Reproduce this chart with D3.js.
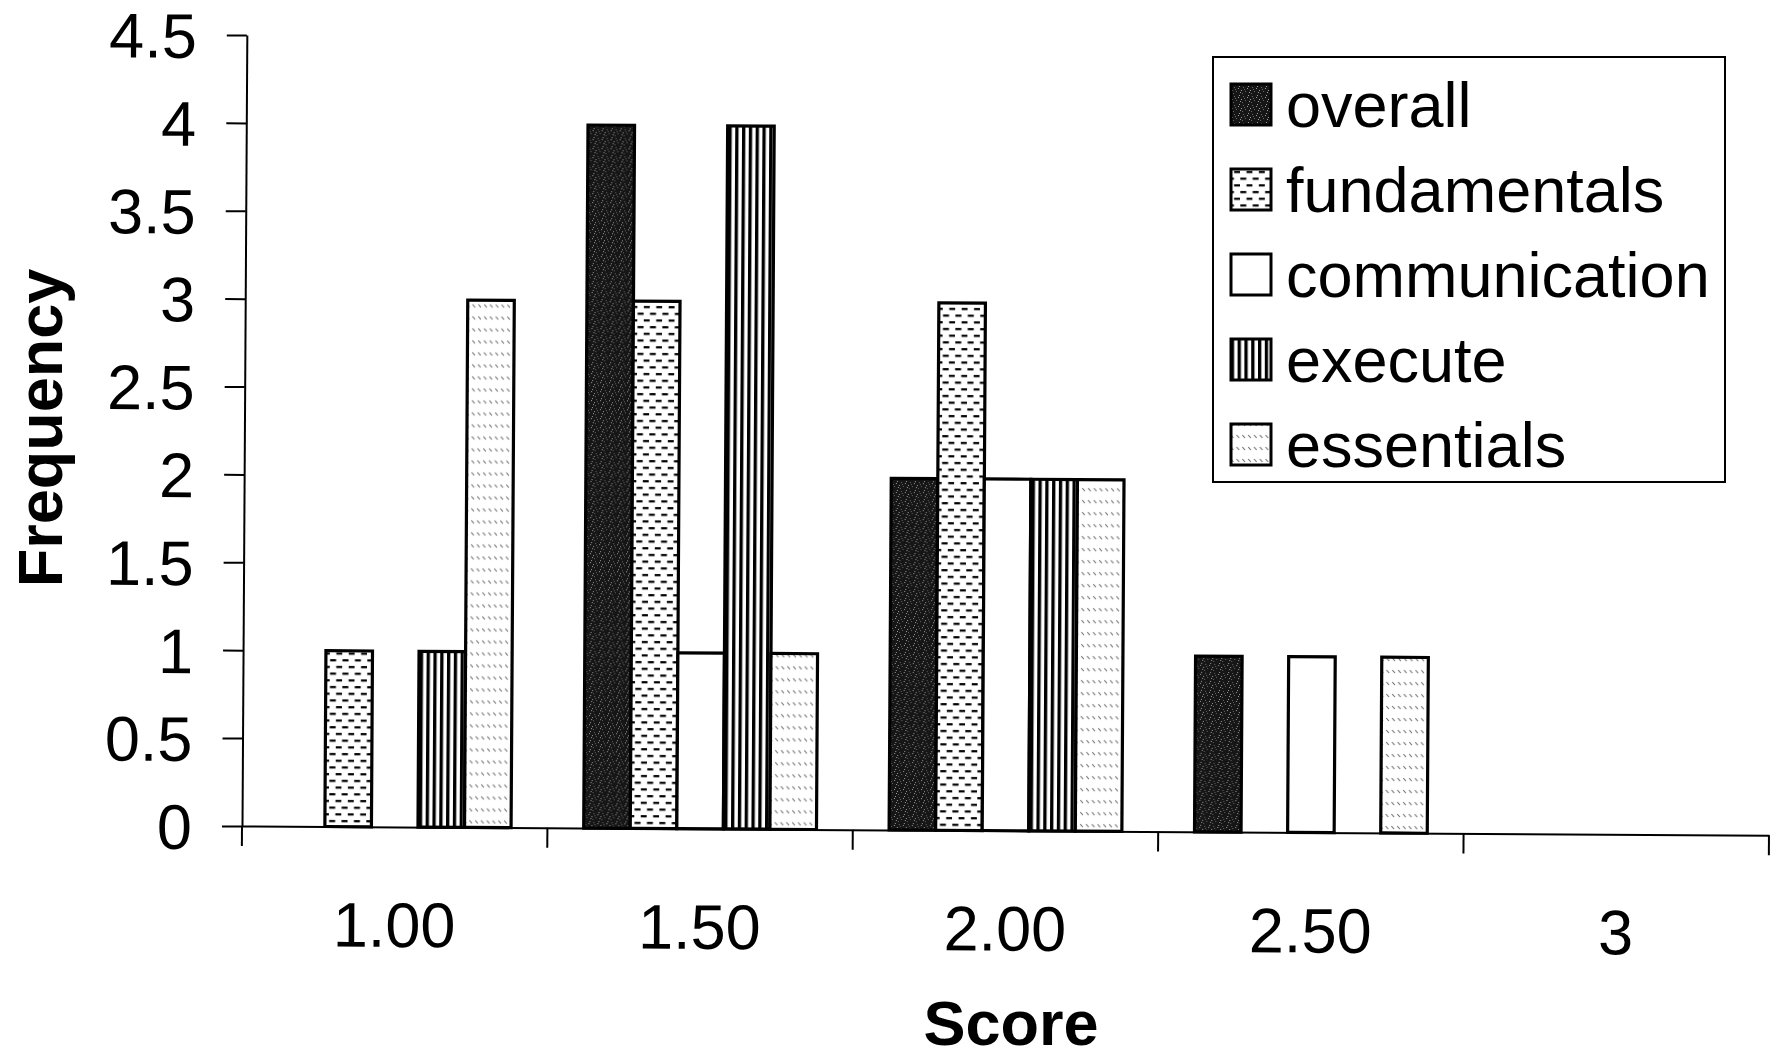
<!DOCTYPE html>
<html>
<head>
<meta charset="utf-8">
<script src="https://cdn.jsdelivr.net/npm/d3@7/dist/d3.min.js"></script>
<style>
  html, body { margin: 0; padding: 0; background: #fff; }
  svg { display: block; }
  text { font-family: "Liberation Sans", Arial, sans-serif; fill: #000; }
</style>
</head>
<body>
<svg id="chart" width="1785" height="1061"></svg>
<script>
// Score categories on the x axis
const categories = ["1.00", "1.50", "2.00", "2.50", "3"];
// Series names, in legend order
const seriesNames = ["overall", "fundamentals", "communication", "execute", "essentials"];
// Frequencies per score category
const overall       = [0, 4, 2, 1, 0];
const fundamentals  = [1, 3, 3, 0, 0];
const communication = [0, 1, 2, 1, 0];
const execute       = [1, 4, 2, 0, 0];
const essentials    = [3, 1, 2, 1, 0];
// Y axis tick values
const yTicks = [0, 0.5, 1, 1.5, 2, 2.5, 3, 3.5, 4, 4.5];

const seriesValues = { overall, fundamentals, communication, execute, essentials };

const svg = d3.select("#chart");
const FONT = 63;

// ---------- fill patterns ----------
const defs = svg.append("defs");

// overall: dark speckled fill
const pOverall = defs.append("pattern").attr("id", "p-overall")
  .attr("patternUnits", "userSpaceOnUse").attr("width", 9).attr("height", 9);
pOverall.append("rect").attr("width", 9).attr("height", 9).attr("fill", "#161616");
[[1,1],[5,2],[3,5],[7,6],[0,7],[6,0],[2,3],[8,4]].forEach(([x, y], i) => {
  pOverall.append("rect").attr("x", x).attr("y", y).attr("width", 1).attr("height", 1)
    .attr("fill", i % 2 ? "#9a9a9a" : "#666");
});

// fundamentals: staggered short horizontal dashes
const pFund = defs.append("pattern").attr("id", "p-fundamentals")
  .attr("patternUnits", "userSpaceOnUse").attr("width", 12.4).attr("height", 13.4);
pFund.append("rect").attr("width", 12.4).attr("height", 13.4).attr("fill", "#fff");
pFund.append("rect").attr("x", 0.3).attr("y", 2).attr("width", 6).attr("height", 2.2).attr("fill", "#000");
pFund.append("rect").attr("x", 6.5).attr("y", 8.7).attr("width", 6).attr("height", 2.2).attr("fill", "#000");

// execute: vertical stripes
const pExec = defs.append("pattern").attr("id", "p-execute")
  .attr("patternUnits", "userSpaceOnUse").attr("width", 6.8).attr("height", 10);
pExec.append("rect").attr("width", 6.8).attr("height", 10).attr("fill", "#fff");
pExec.append("rect").attr("x", 0).attr("width", 3.3).attr("height", 10).attr("fill", "#000");

// essentials: rows of small grey diagonal ticks
const pEss = defs.append("pattern").attr("id", "p-essentials")
  .attr("patternUnits", "userSpaceOnUse").attr("width", 5.8).attr("height", 12);
pEss.append("rect").attr("width", 5.8).attr("height", 12).attr("fill", "#fff");
pEss.append("line").attr("x1", 1.2).attr("y1", 3).attr("x2", 3.8).attr("y2", 6)
  .attr("stroke", "#666").attr("stroke-width", 1.1);

const fills = {
  overall: "url(#p-overall)",
  fundamentals: "url(#p-fundamentals)",
  communication: "#fff",
  execute: "url(#p-execute)",
  essentials: "url(#p-essentials)"
};

// ---------- scales ----------
const x0 = d3.scaleBand().domain(categories).range([242, 1769]).paddingInner(0).paddingOuter(0);
const x1 = d3.scaleBand().domain(seriesNames).range([0, x0.bandwidth()]).paddingInner(0).paddingOuter(0.78);
const y = d3.scaleLinear().domain([0, 4.5]).range([826, 35]);

// plot area (slightly tilted as printed)
const plot = svg.append("g").attr("transform", "rotate(0.35, 242, 826)");

// ---------- bars ----------
const groups = plot.selectAll("g.cat").data(categories).join("g")
  .attr("class", "cat")
  .attr("transform", c => `translate(${x0(c)},0)`);

groups.selectAll("rect")
  .data((c, i) => seriesNames.map(s => ({ s, v: seriesValues[s][i] })).filter(d => d.v > 0))
  .join("rect")
  .attr("x", d => x1(d.s))
  .attr("y", d => y(d.v))
  .attr("width", x1.bandwidth())
  .attr("height", d => y(0) - y(d.v))
  .attr("fill", d => fills[d.s])
  .attr("stroke", "#000")
  .attr("stroke-width", 3.2);

// ---------- y axis ----------
const yAxis = plot.append("g").attr("transform", "translate(242,0)")
  .call(d3.axisLeft(y).tickValues(yTicks).tickFormat(d => String(d))
    .tickSize(20).tickSizeOuter(0).tickPadding(30));
yAxis.select(".domain").attr("stroke", "#000").attr("stroke-width", 2);
yAxis.selectAll(".tick line").attr("stroke", "#000").attr("stroke-width", 2);
yAxis.selectAll(".tick text").attr("font-size", FONT).attr("dy", "0.36em")
  .style("font-family", '"Liberation Sans", Arial, sans-serif');

// ---------- x axis ----------
const xAxis = plot.append("g").attr("transform", "translate(0,826)")
  .call(d3.axisBottom(x0).tickSize(0).tickSizeOuter(0));
xAxis.select(".domain").attr("stroke", "#000").attr("stroke-width", 2);
xAxis.selectAll(".tick text").attr("font-size", FONT).attr("y", 120).attr("dy", 0)
  .style("font-family", '"Liberation Sans", Arial, sans-serif');

// tick marks between score categories
const edges = categories.map(c => x0(c)).concat([x0(categories[categories.length - 1]) + x0.bandwidth()]);
xAxis.selectAll("line.edge").data(edges).join("line")
  .attr("class", "edge")
  .attr("x1", d => d).attr("x2", d => d)
  .attr("y1", 0).attr("y2", 20)
  .attr("stroke", "#000").attr("stroke-width", 2);

// ---------- axis titles ----------
svg.append("text")
  .attr("x", 1011).attr("y", 1045)
  .attr("text-anchor", "middle")
  .attr("font-size", FONT).attr("font-weight", "bold")
  .text("Score");

svg.append("text")
  .attr("transform", "translate(62,428) rotate(-90)")
  .attr("text-anchor", "middle")
  .attr("font-size", FONT).attr("font-weight", "bold")
  .text("Frequency");

// ---------- legend ----------
const legend = svg.append("g");
legend.append("rect")
  .attr("x", 1213).attr("y", 57).attr("width", 512).attr("height", 425)
  .attr("fill", "#fff").attr("stroke", "#000").attr("stroke-width", 2);

const rowY = d3.scalePoint().domain(seriesNames).range([104, 444]);
const items = legend.selectAll("g.item").data(seriesNames).join("g")
  .attr("class", "item")
  .attr("transform", s => `translate(0,${rowY(s)})`);
items.append("rect")
  .attr("x", 1231).attr("y", -20).attr("width", 40).attr("height", 41)
  .attr("fill", s => fills[s]).attr("stroke", "#000").attr("stroke-width", 3);
items.append("text")
  .attr("x", 1286).attr("y", 23)
  .attr("font-size", FONT)
  .text(s => s);
</script>
</body>
</html>
